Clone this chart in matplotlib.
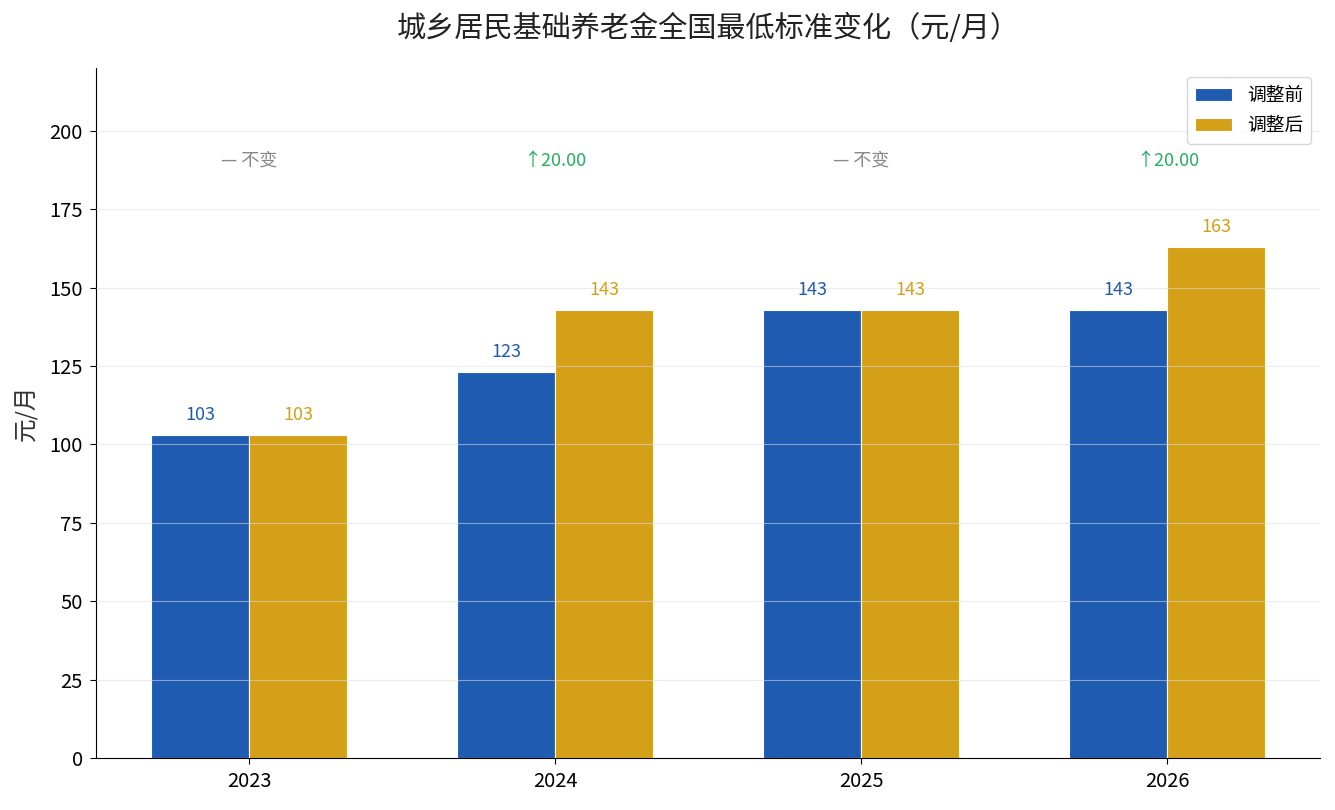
import numpy as np
import matplotlib
matplotlib.use('Agg')
import matplotlib.pyplot as plt

plt.rcParams['font.family'] = ['Noto Sans CJK SC', 'DejaVu Sans']

years = ['2023', '2024', '2025', '2026']
before = [103, 123, 143, 143]
after = [103, 143, 143, 163]
changes = ['— 不变', '↑20.00', '— 不变', '↑20.00']

c_before = '#1f5bb0'
c_after = '#d4a018'
c_up = '#27ae60'
c_same = '#888888'

fig, ax = plt.subplots(figsize=(13.35, 8.1), dpi=100)
x = np.arange(len(years))
W = 0.32
ax.bar(x - W / 2, before, W, color=c_before, edgecolor='white', linewidth=0.8, label='调整前', zorder=1)
ax.bar(x + W / 2, after, W, color=c_after, edgecolor='white', linewidth=0.8, label='调整后', zorder=1)

for i in range(len(years)):
    ax.text(x[i] - W / 2, before[i] + 3.5, str(before[i]), ha='center', va='bottom',
            fontsize=13, color=c_before)
    ax.text(x[i] + W / 2, after[i] + 3.5, str(after[i]), ha='center', va='bottom',
            fontsize=13, color=c_after)
    col = c_up if changes[i].startswith('↑') else c_same
    ax.text(x[i], 190.5, changes[i], ha='center', va='center', fontsize=13, color=col)

ax.set_xlim(-0.5, 3.5)
ax.set_ylim(0, 220)
ax.set_xticks(x)
ax.set_xticklabels(years)
ax.set_yticks(np.arange(0, 201, 25))
ax.tick_params(labelsize=14.5, length=4.5, pad=5)
ax.yaxis.grid(True, color='#dddddd', linewidth=0.8, alpha=0.55, zorder=2)
ax.set_axisbelow(False)
ax.spines['top'].set_visible(False)
ax.spines['right'].set_visible(False)
ax.set_ylabel('元/月', fontsize=17, color='#333333', labelpad=8)
ax.set_title('城乡居民基础养老金全国最低标准变化（元/月）', fontsize=21, color='#222222', pad=22)
ax.legend(loc='upper right', fontsize=13.5, frameon=True)

plt.subplots_adjust(left=0.072, right=0.989, top=0.916, bottom=0.064)
fig.savefig('out.png', dpi=100)
